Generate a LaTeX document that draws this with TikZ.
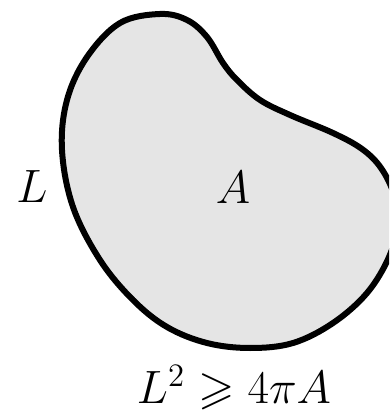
\documentclass[tikz,border=0pt]{standalone}
\usepackage{fix-cm}
\usepackage{amssymb}
\DeclareFontFamily{U}{msa}{}
\DeclareFontShape{U}{msa}{m}{n}{<-> msam10}{}
\definecolor{blobgray}{RGB}{229,229,229}
\begin{document}
\begin{tikzpicture}[x=0.4pt, y=-0.4pt, font=\fontsize{18.7}{22}\selectfont]
  \useasboundingbox (0,0) rectangle (389,410);
  \clip (0,0) rectangle (389,410);
  % the region
  \draw[line width=2.4pt, fill=blobgray, line join=round]
    plot[smooth cycle, tension=0.6] coordinates {
      (160,14) (187,20) (207,37) (223,63) (237,80) (260,100) (290,115)
      (333,133) (362,149) (381,168) (394,195) (397,225) (389,257) (367,293)
      (333,323) (293,343) (250,348) (207,343) (167,327) (133,300)
      (100,260) (73,207) (62,150) (67,100) (87,57) (120,23)};
  % labels
  \node[anchor=base] (perim) at (32,203) {$L$};
  \node[anchor=base] (area) at (233,204) {$A$};
  \node[anchor=base] (ineq) at (234,403) {$L^2 \geqslant 4\pi A$};
\end{tikzpicture}
\end{document}
